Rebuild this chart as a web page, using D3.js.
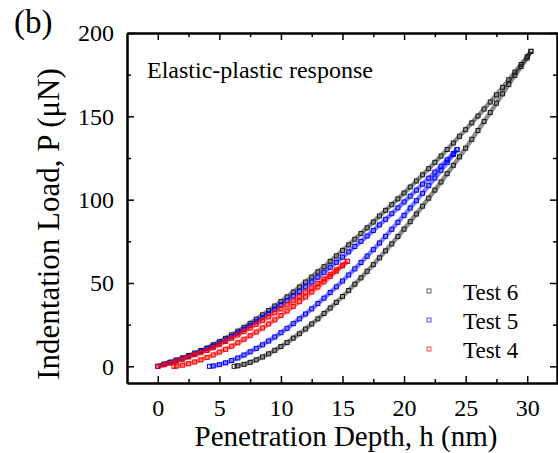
<!DOCTYPE html>
<html lang="en">
<head>
<meta charset="UTF-8">
<title>Indentation load curves</title>
<script src="https://cdn.jsdelivr.net/npm/d3@7"></script>
<style>
    body { margin: 0; background: #fff; }
    text { font-family: "Liberation Serif", "Times New Roman", serif; fill: #000; }
</style>
</head>
<body>
<svg width="558" height="453"></svg>
<script>
    // values, [h (nm), P (uN)]
    const test6Load = [[0,0],[0.5,1.3],[1,2.5],[1.5,3.8],[2,5.1],[2.5,6.5],[3,8],[3.5,9.5],[4,11],[4.5,12.9],[5,14.8],[5.5,16.8],[6,18.9],[6.5,21.1],[7,23.4],[7.5,25.8],[8,28.3],[8.5,30.9],[9,33.5],[9.5,36.2],[10,38.9],[10.5,41.7],[11,44.6],[11.5,47.6],[12,50.6],[12.5,53.6],[13,56.7],[13.5,59.8],[14,63],[14.5,66.3],[15,69.6],[15.5,72.9],[16,76.3],[16.5,79.7],[17,83.1],[17.5,86.6],[18,90.2],[18.5,93.6],[19,97],[19.5,100.5],[20,104],[20.5,107.6],[21,111.2],[21.5,114.9],[22,118.6],[22.5,122.4],[23,126.2],[23.5,130.1],[24,134],[24.5,138],[25,142],[25.5,146.1],[26,150.2],[26.5,154.4],[27,158.6],[27.5,162.9],[28,167.4],[28.5,171.9],[29,176.5],[29.5,181.1],[30,185.8],[30.3,189]];
    const test6Unload = [[30.3,189],[30,185],[29.5,179.8],[29,174.6],[28.5,169.1],[28,163.5],[27.5,157.9],[27,152.3],[26.5,146.9],[26,141.5],[25.5,136.2],[25,130.9],[24.5,125.7],[24,120.6],[23.5,115.6],[23,110.6],[22.5,105.7],[22,100.9],[21.5,96.1],[21,91.4],[20.5,86.8],[20,82.3],[19.5,77.9],[19,73.5],[18.5,69.3],[18,65.1],[17.5,61],[17,57],[16.5,53.1],[16,49.3],[15.5,45.5],[15,41.9],[14.5,38.4],[14,35],[13.5,31.7],[13,28.5],[12.5,25.4],[12,22.4],[11.5,19.6],[11,16.9],[10.5,14.3],[10,11.9],[9.5,9.6],[9,7.5],[8.5,5.6],[8,3.9],[7.5,2.4],[7,1.2],[6.5,0.3],[6.2,0]];
    const test5Load = [[0,0],[0.5,1.2],[1,2.3],[1.5,3.4],[2,4.5],[2.5,5.9],[3,7.3],[3.5,8.9],[4,10.5],[4.5,12.1],[5,13.8],[5.5,15.8],[6,17.8],[6.5,20],[7,22.2],[7.5,24.5],[8,26.8],[8.5,29.2],[9,31.7],[9.5,34.3],[10,36.9],[10.5,39.5],[11,42.2],[11.5,44.9],[12,47.7],[12.5,50.6],[13,53.5],[13.5,56.4],[14,59.4],[14.5,62.4],[15,65.5],[15.5,68.7],[16,71.9],[16.5,75],[17,78.2],[17.5,81.5],[18,84.9],[18.5,88.2],[19,91.6],[19.5,95.1],[20,98.6],[20.5,102.1],[21,105.7],[21.5,109.3],[22,112.9],[22.5,116.5],[23,120.1],[23.5,123.9],[24,127.7],[24.3,130]];
    const test5Unload = [[24.3,130],[24,127.1],[23.5,122.4],[23,117.6],[22.5,113],[22,108.4],[21.5,103.8],[21,99.4],[20.5,95],[20,90.6],[19.5,86.4],[19,82.2],[18.5,78],[18,74],[17.5,70],[17,66.1],[16.5,62.3],[16,58.5],[15.5,54.8],[15,51.2],[14.5,47.7],[14,44.3],[13.5,40.9],[13,37.7],[12.5,34.5],[12,31.4],[11.5,28.5],[11,25.6],[10.5,22.8],[10,20.2],[9.5,17.6],[9,15.2],[8.5,12.9],[8,10.7],[7.5,8.7],[7,6.8],[6.5,5],[6,3.5],[5.5,2.1],[5,1],[4.5,0.2],[4.2,0]];
    const test4Load = [[0,0],[0.5,0.9],[1,1.9],[1.5,3.1],[2,4.3],[2.5,5.6],[3,7],[3.5,8.2],[4,9.5],[4.5,11.2],[5,13],[5.5,14.9],[6,16.8],[6.5,18.8],[7,20.9],[7.5,23],[8,25.2],[8.5,27.4],[9,29.7],[9.5,32.1],[10,34.5],[10.5,36.9],[11,39.4],[11.5,41.9],[12,44.5],[12.5,47.1],[13,49.7],[13.5,52.4],[14,55.2],[14.5,57.9],[15,60.7],[15.4,63]];
    const test4Unload = [[15.4,63],[15,60.3],[14.5,57.1],[14,53.9],[13.5,50.7],[13,47.6],[12.5,44.6],[12,41.6],[11.5,38.8],[11,35.9],[10.5,33.2],[10,30.5],[9.5,27.9],[9,25.4],[8.5,23],[8,20.6],[7.5,18.4],[7,16.2],[6.5,14.1],[6,12.1],[5.5,10.2],[5,8.5],[4.5,6.8],[4,5.3],[3.5,3.9],[3,2.6],[2.5,1.6],[2,0.7],[1.5,0.1],[1.3,0]];

    const seriesNames = ["Test 6", "Test 5", "Test 4"];
    const seriesColors = ["#1a1a1a", "#0000ff", "#ff0000"];
    const seriesParts = [[test6Load, test6Unload], [test5Load, test5Unload], [test4Load, test4Unload]];

    const xMajor = [0, 5, 10, 15, 20, 25, 30];
    const xMinor = [2.5, 7.5, 12.5, 17.5, 22.5, 27.5];
    const yMajor = [0, 50, 100, 150, 200];
    const yMinor = [25, 75, 125, 175];

    const svg = d3.select("svg");
    const mLeft = 127, mRight = 558, mTop = 33, mBottom = 383;

    const x = d3.scaleLinear().domain([-2.5, 32.5]).range([mLeft, mRight]);
    const y = d3.scaleLinear().domain([-10, 200]).range([mBottom, mTop]);

    // curves first, frame on top
    const line = d3.line().x(d => x(d[0])).y(d => y(d[1]));
    seriesParts.forEach(function (parts, i) {
        const g = svg.append("g");
        parts.forEach(function (part) {
            g.append("path")
                .attr("d", line(part))
                .attr("fill", "none")
                .attr("stroke", seriesColors[i])
                .attr("stroke-opacity", 0.5)
                .attr("stroke-width", 4.5);
        });
        g.selectAll("rect")
            .data(parts[0].concat(parts[1]))
            .enter()
            .append("rect")
            .attr("x", d => x(d[0]) - 2)
            .attr("y", d => y(d[1]) - 2)
            .attr("width", 4)
            .attr("height", 4)
            .attr("fill", "none")
            .attr("stroke", seriesColors[i])
            .attr("stroke-width", 1);
    });

    // axes, ticks pointing inward
    function drawAxis(axis, transform, labels) {
        const g = svg.append("g").attr("transform", transform).call(axis);
        g.select(".domain").attr("stroke-width", 2);
        g.selectAll(".tick line").attr("stroke-width", 1.5);
        if (!labels) g.selectAll(".tick text").remove();
        return g;
    }

    const xb = drawAxis(d3.axisBottom(x).tickValues(xMajor).tickSize(-7).tickSizeOuter(0).tickPadding(16), `translate(0,${mBottom})`, true);
    xb.selectAll(".tick text").attr("font-size", 24);
    drawAxis(d3.axisBottom(x).tickValues(xMinor).tickSize(-4).tickSizeOuter(0), `translate(0,${mBottom})`, false);
    drawAxis(d3.axisTop(x).tickValues(xMajor).tickSize(-7).tickSizeOuter(0), `translate(0,${mTop})`, false);
    drawAxis(d3.axisTop(x).tickValues(xMinor).tickSize(-4).tickSizeOuter(0), `translate(0,${mTop})`, false);

    const yl = drawAxis(d3.axisLeft(y).tickValues(yMajor).tickSize(-7).tickSizeOuter(0).tickPadding(13), `translate(${mLeft},0)`, true);
    yl.selectAll(".tick text").attr("font-size", 24);
    drawAxis(d3.axisLeft(y).tickValues(yMinor).tickSize(-4).tickSizeOuter(0), `translate(${mLeft},0)`, false);
    drawAxis(d3.axisRight(y).tickValues(yMajor).tickSize(-7).tickSizeOuter(0), `translate(${mRight - 1},0)`, false);
    drawAxis(d3.axisRight(y).tickValues(yMinor).tickSize(-4).tickSizeOuter(0), `translate(${mRight - 1},0)`, false);

    svg.append("text")
        .attr("x", 346).attr("y", 446)
        .attr("text-anchor", "middle")
        .attr("font-size", 29)
        .text("Penetration Depth, h (nm)");

    svg.append("text")
        .attr("transform", "translate(59,224) rotate(-90)")
        .attr("text-anchor", "middle")
        .attr("font-size", 31)
        .text("Indentation Load, P (\u03BCN)");

    svg.append("text")
        .attr("x", 14).attr("y", 33)
        .attr("font-size", 33)
        .text("(b)");

    svg.append("text")
        .attr("x", 147).attr("y", 78)
        .attr("font-size", 24)
        .text("Elastic-plastic response");

    // legend
    const legend = svg.append("g");
    seriesNames.forEach(function (name, i) {
        const ly = 291 + i * 29;
        legend.append("rect")
            .attr("x", 427).attr("y", ly - 2)
            .attr("width", 4).attr("height", 4)
            .attr("fill", "none")
            .attr("stroke", seriesColors[i])
            .attr("stroke-opacity", 0.7)
            .attr("stroke-width", 1);
        legend.append("text")
            .attr("x", 463).attr("y", ly + 9)
            .attr("font-size", 23)
            .text(name);
    });
</script>
</body>
</html>
